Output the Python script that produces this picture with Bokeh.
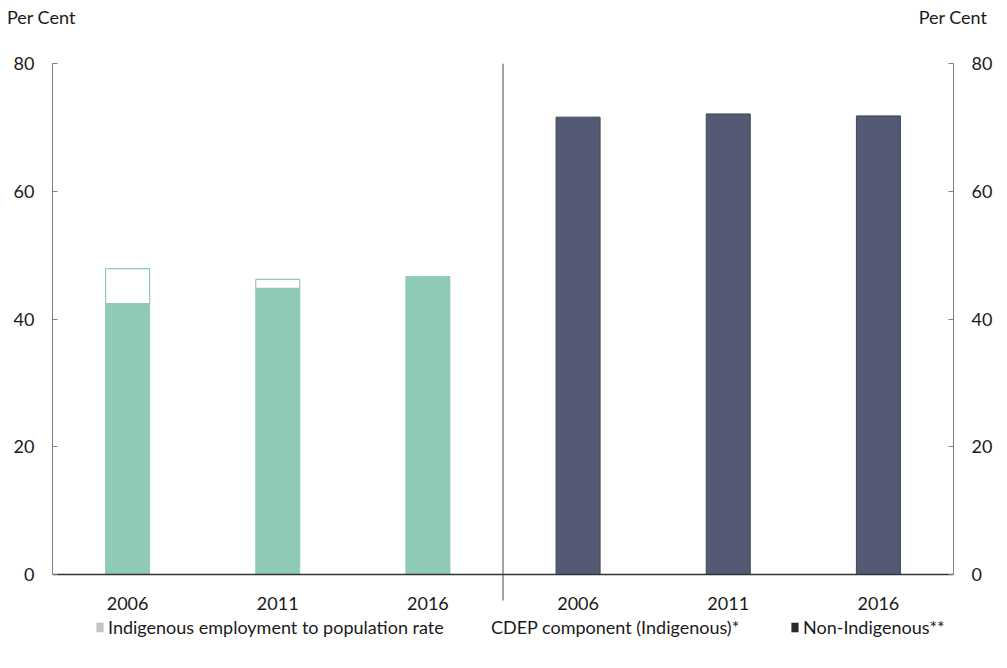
from bokeh.plotting import figure
from bokeh.models import (Range1d, LinearAxis, FixedTicker, Legend, LegendItem,
                          ColumnDataSource, Div)
from bokeh.layouts import column
from bokeh.core.properties import value
from bokeh.embed import file_html
from bokeh.resources import INLINE

# ---- data ----
years = ["2006", "2011", "2016"]
groups = ["Indigenous", "Non-Indigenous"]
indig_emp = [42.4, 44.8, 46.6]          # Indigenous employment to population rate
cdep = [5.5, 1.4, 0.0]                  # CDEP component (Indigenous)
non_indig = [71.6, 72.1, 71.8]          # Non-Indigenous
y_ticks = [0, 20, 40, 60, 80]
legend_labels = ["Indigenous employment to population rate",
                 "CDEP component (Indigenous)*",
                 "Non-Indigenous**"]
unit_label = "Per Cent"

FONT = "Lato"
GREEN = "#8fcab4"
NAVY = "#545a73"
TXT = "#1a1a1a"

DIV_H = 34
FIG_H = 630
TOP_BORDER = 63 - DIV_H
ppu = (574 - 63) / 80.0
y_start = 80 - (FIG_H - TOP_BORDER) / ppu

header = Div(
    text=(f'<div style="display:flex;justify-content:space-between;'
          f'font-family:Lato;font-size:18px;color:{TXT};line-height:{DIV_H}px;'
          f'padding-left:7px;padding-right:3px;width:990px;">'
          f'<span>{unit_label}</span><span>{unit_label}</span></div>'),
    width=1000, height=DIV_H, margin=0)

p = figure(width=1000, height=FIG_H, output_backend="svg", toolbar_location=None,
           x_range=Range1d(0, 6), y_range=Range1d(y_start, 80),
           x_axis_location=None, y_axis_location=None,
           min_border_left=52, min_border_right=47, min_border_top=TOP_BORDER,
           min_border_bottom=0, margin=0)
p.outline_line_color = None
p.grid.visible = False

xs_ind = [i + 0.5 for i in range(3)]
xs_non = [i + 3.5 for i in range(3)]
bw = 0.293

src_ind = ColumnDataSource(dict(x=xs_ind, emp=indig_emp,
                                top=[a + b for a, b in zip(indig_emp, cdep)]))
src_non = ColumnDataSource(dict(x=xs_non, top=non_indig))

p.vbar(x="x", bottom=0, top="emp", width=bw, source=src_ind,
       fill_color=GREEN, line_color=GREEN)
p.vbar(x="x", bottom="emp", top="top", width=bw, source=src_ind,
       fill_color="white", line_color=GREEN, line_width=1.2)
p.vbar(x="x", bottom=0, top="top", width=bw, source=src_non,
       fill_color=NAVY, line_color="#3f4458")

# axes (left and right), ticks pointing inward
for loc in ("left", "right"):
    ax = LinearAxis(ticker=FixedTicker(ticks=y_ticks), bounds=(0, 80))
    ax.axis_line_color = "#808080"
    ax.major_tick_line_color = "#808080"
    ax.major_tick_in = 5
    ax.major_tick_out = 0
    ax.minor_tick_line_color = None
    ax.major_label_standoff = 18
    ax.major_label_text_font = FONT
    ax.major_label_text_font_size = "18px"
    ax.major_label_text_color = TXT
    p.add_layout(ax, loc)

# baseline and divider
p.segment(x0=[0], y0=[0], x1=[6], y1=[0], line_color="#333333", line_width=1.5)
p.segment(x0=[3], y0=[80], x1=[3], y1=[-(600 - 574) / ppu],
          line_color="#444444", line_width=1)

# category labels
p.text(x=xs_ind + xs_non, y=[-(603 - 574) / ppu] * 6, text=years + years,
       text_align="center", text_baseline="middle",
       text_font=value(FONT), text_font_size="18px", text_color=TXT)

# legend swatches (quad renderers placed outside the visible range)
sw_colors = ["#c4c4c4", "white", "#2a2a2a"]
leg_x = [43, 426, 738]
for lab, col, lx in zip(legend_labels, sw_colors, leg_x):
    r = p.quad(left=[0], right=[0.01], top=[-1000], bottom=[-1001],
               fill_color=col, line_color=None)
    lg = Legend(items=[LegendItem(label=lab, renderers=[r])],
                location=(lx, 26), orientation="horizontal",
                border_line_color=None, background_fill_alpha=0,
                padding=0, margin=0, glyph_width=9, glyph_height=12,
                label_standoff=4, label_text_font=FONT,
                label_text_font_size="18px", label_text_color=TXT)
    p.add_layout(lg, "center")

layout = column(header, p, spacing=0)
open("out.html", "w").write(file_html(layout, INLINE))
